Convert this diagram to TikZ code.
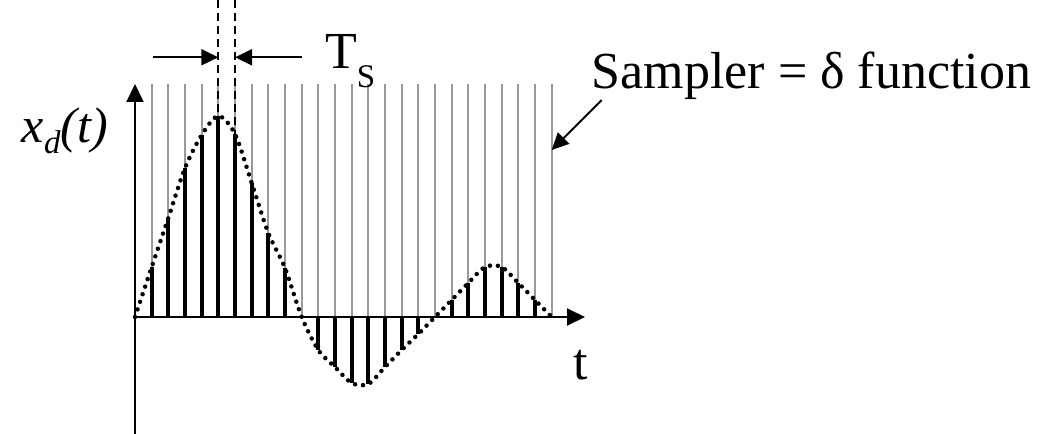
\documentclass[tikz,border=0pt]{standalone}
\usepackage{fontspec}
\setmainfont{Liberation Serif}
\usepackage{tikz}
\usetikzlibrary{arrows.meta, positioning}

\newcommand{\lblfont}{\fontsize{52}{60}\selectfont}
\newcommand{\subfont}{\fontsize{33}{36}\selectfont}

\begin{document}
\begin{tikzpicture}[x=1pt, y=1pt,
    axis/.style={line width=2pt, -{Triangle[length=18pt, width=17pt]}},
    grid/.style={line width=2.2pt, black!40},
    stem/.style={line width=4pt},
    curve/.style={line width=4.5pt, line cap=round, dash pattern=on 0pt off 8pt},
    guide/.style={line width=2pt, dash pattern=on 8pt off 5pt},
    arr/.style={line width=2pt, -{Triangle[length=17pt, width=16pt]}},
    lbl/.style={inner sep=0pt, anchor=base west, font=\lblfont}
]
\useasboundingbox (-135,-117) rectangle (926,317);

\coordinate (O)    at (0,0);
\coordinate (xend) at (450,0);
\coordinate (ytop) at (0,233);
\coordinate (ybot) at (0,-117);

% sampler lines
\foreach \k in {1,...,25}
  \draw[grid] (16.667*\k,0) -- (16.667*\k,233);

% samples
\foreach \h [count=\k] in {50,99,149,182,201,183,134,84,49,0,-33,-50,-66,-67,-50,-33,-17,0,17,34,50,50,34,17,0}
  \draw[stem] (16.667*\k,0) -- (16.667*\k,\h);

% signal
\draw[curve] plot[smooth] coordinates {(0,0) (16.7,50) (33.3,99) (50,149) (66.7,182) (83.3,201)
  (100,183) (116.7,134) (133.3,84) (150,49) (166.7,0) (183.3,-33) (200,-50) (216.7,-66)
  (233.3,-67) (250,-50) (266.7,-33) (283.3,-17) (300,0) (316.7,17) (333.3,34) (350,50)
  (366.7,50) (383.3,34) (400,17) (416.7,0)};

% axes
\draw[axis] (ybot) -- (ytop);
\draw[axis] (O) -- (xend);

% Ts
\coordinate (g1top) at (83.3,317);
\coordinate (g1bot) at (83.3,201);
\coordinate (g2top) at (100,317);
\coordinate (g2bot) at (100,183);
\draw[guide] (g1top) -- (g1bot);
\draw[guide] (g2top) -- (g2bot);
\coordinate (ta) at (17.7,259.7);
\coordinate (tb) at (167,259.7);
\draw[arr] (ta) -- (g1top |- ta);
\draw[arr] (tb) -- (g2top |- tb);

\node[lbl] (Ts) at (190,248) {T\raisebox{-19pt}{\subfont S}};
\node[lbl] (samp) at (456.7,228) {Sampler = δ function};
\node[lbl, font=\fontsize{50}{54}\selectfont\itshape] (xd) at (-113.3,174)
  {x\raisebox{-11pt}{\fontsize{33}{36}\selectfont d}(t)};
\node[lbl] (tl) at (438,-62) {t};

\coordinate (lastline) at (416.7,167);
\draw[arr] ([shift={(10,-11)}]samp.base west) -- (lastline);
\end{tikzpicture}
\end{document}
